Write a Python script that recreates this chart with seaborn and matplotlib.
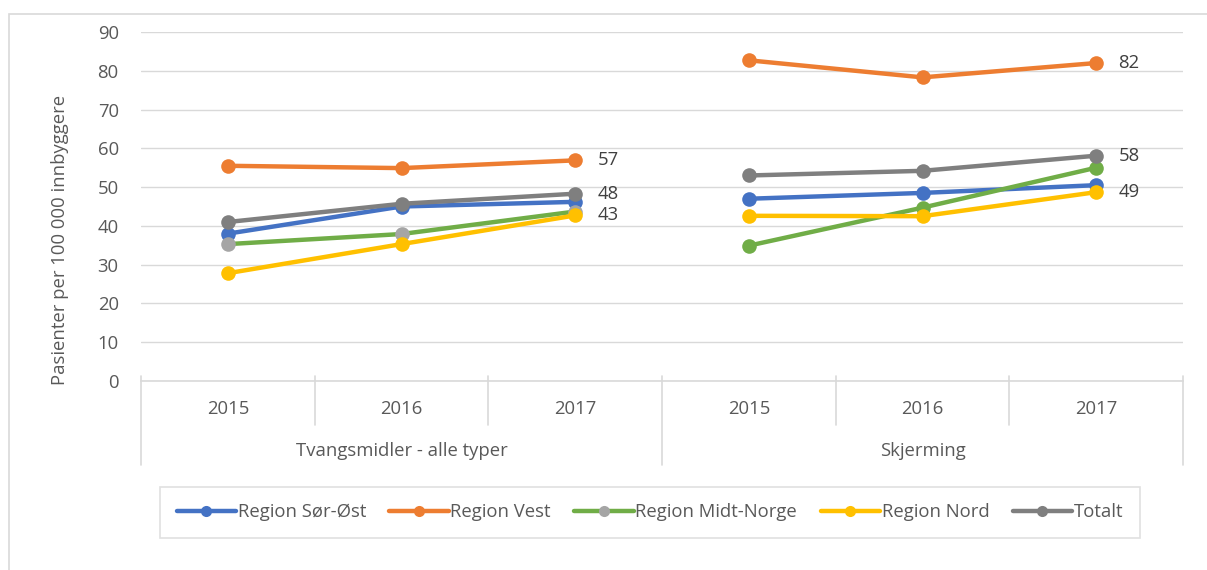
import numpy as np
import pandas as pd
import matplotlib
matplotlib.use('Agg')
import matplotlib.pyplot as plt
import matplotlib.transforms as mtransforms
from matplotlib.lines import Line2D
from matplotlib.patches import Rectangle
import seaborn as sns

# data
groups = ['Tvangsmidler - alle typer', 'Skjerming']
years = ['2015', '2016', '2017']
regions = ['Region Sør-Øst', 'Region Vest', 'Region Midt-Norge', 'Region Nord', 'Totalt']
colors = ['#4472C4', '#ED7D31', '#70AD47', '#FFC000', '#7F7F7F']

sor_ost = [38.0, 45.0, 46.2, 47.0, 48.5, 50.5]
vest = [55.5, 54.9, 56.9, 82.7, 78.3, 82.0]
midt_norge = [35.3, 37.9, 43.7, 34.9, 44.7, 55.0]
nord = [27.8, 35.3, 42.7, 42.6, 42.5, 48.7]
totalt = [41.0, 45.7, 48.3, 53.0, 54.2, 58.1]

values = [sor_ost, vest, midt_norge, nord, totalt]
# value labels only on the last year of each group
labelled = ['Region Vest', 'Totalt', 'Region Nord']

rows = []
for r, vals in zip(regions, values):
    for i, v in enumerate(vals):
        rows.append({'region': r, 'pos': i, 'group': groups[i // 3], 'value': v})
df = pd.DataFrame(rows)

sns.set_theme(style='white')
plt.rcParams['font.family'] = ['Open Sans', 'DejaVu Sans']
FS = 13.3

fig = plt.figure(figsize=(12.07, 5.70), dpi=100)
ax = fig.add_axes([141/1207, 1-381/570, (1183-141)/1207, (381-32)/570])

palette = dict(zip(regions, colors))
for g in groups:
    sub = df[df['group'] == g]
    sns.lineplot(data=sub, x='pos', y='value', hue='region', hue_order=regions,
                 palette=palette, marker='o', markersize=10.5, markeredgewidth=0,
                 linewidth=3.2, legend=False, ax=ax, zorder=3)

# Midt-Norge markers are gray in the first group
ax.get_lines()[2].set_markerfacecolor('#A5A5A5')

for r, vals in zip(regions, values):
    if r in labelled:
        for i in (2, 5):
            ax.annotate(f'{vals[i]:.0f}', (i, vals[i]), xytext=(16, 0),
                        textcoords='offset points', va='center', ha='left',
                        fontsize=FS, color='#404040')

ax.set_xlim(-0.5, 5.5)
ax.set_ylim(0, 90)
ax.set_yticks(np.arange(0, 91, 10))
ax.set_xticks([])
ax.set_xlabel('')
ax.set_ylabel('')
ax.tick_params(axis='y', length=0, pad=16, labelsize=FS, labelcolor='#595959')
ax.grid(axis='y', color='#D9D9D9', linewidth=1)
ax.set_axisbelow(True)
for s in ['top', 'right', 'left']:
    ax.spines[s].set_visible(False)
ax.spines['bottom'].set_color('#D9D9D9')
ax.spines['bottom'].set_linewidth(1.2)

# category axis with group labels
trans = mtransforms.blended_transform_factory(ax.transData, fig.transFigure)
y0 = 1 - 376/570
for b in [0.5, 1.5, 3.5, 4.5]:
    ax.plot([b, b], [y0, 1 - 425/570], color='#D9D9D9', lw=1.2, transform=trans, clip_on=False)
for b in [-0.5, 2.5, 5.5]:
    ax.plot([b, b], [y0, 1 - 465/570], color='#D9D9D9', lw=1.2, transform=trans, clip_on=False)
for i in range(6):
    ax.text(i, 1 - 409/570, years[i % 3], transform=trans, ha='center', va='center',
            fontsize=FS, color='#595959')
for j, g in enumerate(groups):
    ax.text(3 * j + 1, 1 - 451/570, g, transform=trans, ha='center', va='center',
            fontsize=FS, color='#595959')

fig.text(60/1207, 1 - 240/570, 'Pasienter per 100 000 innbyggere', rotation=90,
         ha='center', va='center', fontsize=FS, color='#595959')

# legend
handles = []
for r, c in zip(regions, colors):
    mc = '#A5A5A5' if r == 'Region Midt-Norge' else c
    handles.append(Line2D([0], [0], color=c, lw=3.2, marker='o', markersize=8,
                          markerfacecolor=mc, markeredgewidth=0))
leg = fig.legend(handles, regions, loc='lower left', ncol=5, mode='expand',
                 bbox_to_anchor=(160/1207, 1 - 538/570, 980/1207, 60/570),
                 handlelength=3.2, handletextpad=0.1, borderaxespad=0,
                 fontsize=FS, frameon=True, fancybox=False, borderpad=0.9)
leg.get_frame().set_edgecolor('#D9D9D9')
leg.get_frame().set_linewidth(1.2)
for t in leg.get_texts():
    t.set_color('#595959')

# outer chart border
fig.patches.append(Rectangle((9/1207, -0.1), 1.2, 1 - 14/570 + 0.1, transform=fig.transFigure,
                             fill=False, edgecolor='#D9D9D9', lw=1.2))

fig.savefig('out.png', dpi=100)
